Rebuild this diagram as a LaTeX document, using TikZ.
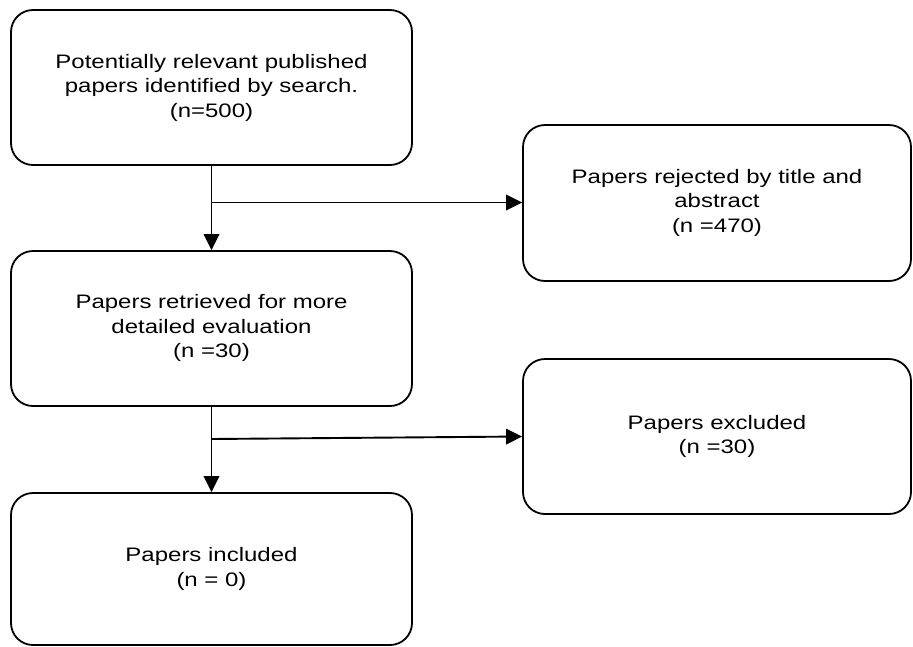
\documentclass[tikz,border=0pt]{standalone}
\usepackage{fontspec}
\setmainfont{Liberation Sans}[FakeStretch=1.23]
\usetikzlibrary{arrows.meta}
\begin{document}
\begin{tikzpicture}[x=1pt,y=-1pt,
  box/.style={draw, line width=1.8pt, rounded corners=22pt, align=center,
    font=\fontsize{19.5}{24.5}\selectfont, inner sep=0pt},
  conn/.style={line width=1.9pt, -{Triangle[length=16pt,width=15.5pt]}}]
\useasboundingbox (0,0) rectangle (913,646);
\node[box, minimum width=401pt, minimum height=155pt] (b1) at (211.5,87.5)
  {Potentially relevant published\\papers identified by search.\\(n=500)};
\node[box, minimum width=388pt, minimum height=156pt] (b2) at (717,203)
  {\raisebox{-3pt}{\begin{tabular}{@{}c@{}}Papers rejected by title and\\abstract\\(n =470)\end{tabular}}};
\node[box, minimum width=401pt, minimum height=155pt] (b3) at (211.5,328.5)
  {\raisebox{-5pt}{\begin{tabular}{@{}c@{}}Papers retrieved for more\\detailed evaluation\\(n =30)\end{tabular}}};
\node[box, minimum width=388pt, minimum height=155pt] (b4) at (717,436.5)
  {Papers excluded\\(n =30)};
\node[box, minimum width=401pt, minimum height=152pt] (b5) at (211.5,569)
  {Papers included\\(n = 0)};
\coordinate (j1) at (211.5,202.5);
\coordinate (j2) at (211.5,439);
\draw[conn] (b1.south) -- (b3.north);
\draw[conn] (j1) -- (j1 -| b2.west);
\draw[conn] (b3.south) -- (b5.north);
\draw[conn] (j2) -- (b4.west);
\end{tikzpicture}
\end{document}
